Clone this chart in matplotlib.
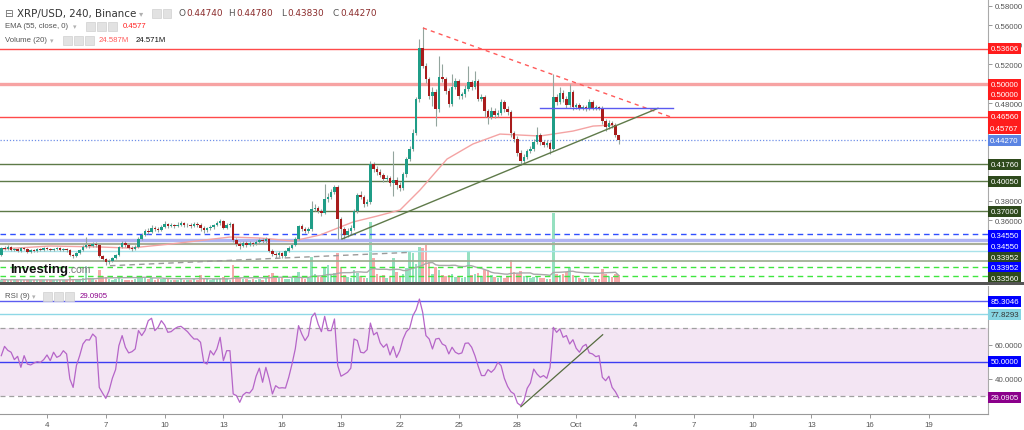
#!/usr/bin/env python3
# XRP/USD 4h (Binance) with EMA(55), Volume(20) and RSI(9) panels

import numpy as np
import pandas as pd
import matplotlib
matplotlib.use("Agg")
import matplotlib.pyplot as plt
from matplotlib.patches import Rectangle
from matplotlib.transforms import blended_transform_factory

# ---------------- data ----------------
# 4h candles, first one starts Sept 1 16:00 (x unit = day of September)
start_day = 1 + 16 / 24
first_open = 0.3243

closes = [
    0.3315, 0.3305, 0.3326, 0.3295, 0.3305, 0.3285, 0.3315, 0.3305, 0.3274, 0.3295,
    0.3285, 0.3305, 0.3295, 0.3315, 0.3305, 0.3295, 0.3305, 0.3315, 0.3295, 0.3305,
    0.3295, 0.3243, 0.3233, 0.3264, 0.3295, 0.3326, 0.3346, 0.3336, 0.3356, 0.3346,
    0.3233, 0.3202, 0.3172, 0.3182, 0.3213, 0.3243, 0.3326, 0.3367, 0.3346, 0.3315,
    0.3305, 0.3326, 0.3408, 0.3449, 0.3490, 0.3479, 0.3520, 0.3510, 0.3500, 0.3531,
    0.3561, 0.3541, 0.3551, 0.3541, 0.3551, 0.3572, 0.3551, 0.3556, 0.3541, 0.3561,
    0.3551, 0.3520, 0.3500, 0.3520, 0.3531, 0.3551, 0.3572, 0.3592, 0.3520, 0.3551,
    0.3561, 0.3397, 0.3356, 0.3336, 0.3367, 0.3346, 0.3367, 0.3356, 0.3377, 0.3397,
    0.3387, 0.3408, 0.3285, 0.3254, 0.3243, 0.3264, 0.3233, 0.3285, 0.3315, 0.3346,
    0.3408, 0.3541, 0.3510, 0.3490, 0.3510, 0.3715, 0.3725, 0.3695, 0.3674, 0.3818,
    0.3838, 0.3890, 0.3941, 0.3613, 0.3510, 0.3449, 0.3490, 0.3520, 0.3695, 0.3859,
    0.3838, 0.3766, 0.3787, 0.4177, 0.4125, 0.4095, 0.4064, 0.4023, 0.4033, 0.3982,
    0.4012, 0.3961, 0.3931, 0.4074, 0.4228, 0.4331, 0.4495, 0.4843, 0.5366, 0.5182,
    0.5048, 0.4874, 0.4915, 0.4741, 0.5069, 0.5048, 0.4925, 0.4792, 0.4966, 0.5028,
    0.4874, 0.4895, 0.4946, 0.5018, 0.4966, 0.5028, 0.4843, 0.4864, 0.4720, 0.4659,
    0.4720, 0.4679, 0.4700, 0.4813, 0.4741, 0.4710, 0.4495, 0.4433, 0.4290, 0.4208,
    0.4249, 0.4310, 0.4331, 0.4402, 0.4474, 0.4402, 0.4372, 0.4392, 0.4331, 0.4864,
    0.4813, 0.4905, 0.4843, 0.4782, 0.4915, 0.4761, 0.4782, 0.4751, 0.4761, 0.4741,
    0.4813, 0.4751, 0.4761, 0.4751, 0.4618, 0.4556, 0.4597, 0.4577, 0.4474, 0.4427,
]

highs = [
    0.3326, 0.3336, 0.3346, 0.3336, 0.3315, 0.3315, 0.3326, 0.3326, 0.3315, 0.3305,
    0.3305, 0.3315, 0.3315, 0.3326, 0.3326, 0.3315, 0.3315, 0.3326, 0.3326, 0.3315,
    0.3315, 0.3305, 0.3254, 0.3274, 0.3305, 0.3346, 0.3428, 0.3367, 0.3377, 0.3377,
    0.3356, 0.3243, 0.3213, 0.3202, 0.3223, 0.3254, 0.3336, 0.3387, 0.3387, 0.3356,
    0.3336, 0.3346, 0.3428, 0.3469, 0.3510, 0.3520, 0.3551, 0.3541, 0.3531, 0.3551,
    0.3592, 0.3572, 0.3572, 0.3561, 0.3582, 0.3592, 0.3582, 0.3572, 0.3572, 0.3582,
    0.3582, 0.3572, 0.3541, 0.3531, 0.3551, 0.3561, 0.3592, 0.3613, 0.3602, 0.3572,
    0.3582, 0.3572, 0.3418, 0.3377, 0.3387, 0.3387, 0.3387, 0.3377, 0.3397, 0.3418,
    0.3418, 0.3428, 0.3418, 0.3305, 0.3274, 0.3285, 0.3274, 0.3295, 0.3336, 0.3367,
    0.3428, 0.3551, 0.3561, 0.3531, 0.3531, 0.3797, 0.3766, 0.3746, 0.3715, 0.3972,
    0.3879, 0.3920, 0.3961, 0.3961, 0.3633, 0.3531, 0.3520, 0.3551, 0.3715, 0.3879,
    0.3900, 0.3859, 0.3818, 0.4208, 0.4197, 0.4156, 0.4125, 0.4084, 0.4064, 0.4054,
    0.4310, 0.4043, 0.3992, 0.4095, 0.4249, 0.4361, 0.4536, 0.4864, 0.5459, 0.5582,
    0.5213, 0.5069, 0.4966, 0.4946, 0.5284, 0.5202, 0.5069, 0.4956, 0.5100, 0.5059,
    0.5048, 0.4915, 0.4987, 0.5182, 0.5038, 0.5131, 0.5048, 0.4895, 0.4884, 0.4741,
    0.4761, 0.4751, 0.4731, 0.4843, 0.4833, 0.4772, 0.4731, 0.4515, 0.4464, 0.4320,
    0.4279, 0.4331, 0.4361, 0.4433, 0.4556, 0.4495, 0.4423, 0.4423, 0.4413, 0.5100,
    0.4895, 0.4966, 0.4936, 0.4874, 0.4997, 0.4936, 0.4802, 0.4802, 0.4782, 0.4782,
    0.4843, 0.4833, 0.4782, 0.4772, 0.4772, 0.4638, 0.4628, 0.4618, 0.4597, 0.4478,
]

lows = [
    0.3233, 0.3295, 0.3295, 0.3285, 0.3285, 0.3274, 0.3274, 0.3295, 0.3264, 0.3264,
    0.3274, 0.3274, 0.3285, 0.3285, 0.3295, 0.3285, 0.3285, 0.3295, 0.3285, 0.3285,
    0.3274, 0.3233, 0.3213, 0.3223, 0.3254, 0.3285, 0.3315, 0.3315, 0.3326, 0.3326,
    0.3223, 0.3182, 0.3141, 0.3151, 0.3172, 0.3202, 0.3233, 0.3315, 0.3326, 0.3305,
    0.3285, 0.3295, 0.3315, 0.3397, 0.3438, 0.3459, 0.3469, 0.3490, 0.3479, 0.3490,
    0.3520, 0.3520, 0.3531, 0.3520, 0.3531, 0.3541, 0.3531, 0.3531, 0.3520, 0.3531,
    0.3531, 0.3490, 0.3469, 0.3479, 0.3500, 0.3510, 0.3541, 0.3551, 0.3510, 0.3510,
    0.3531, 0.3377, 0.3336, 0.3305, 0.3326, 0.3326, 0.3336, 0.3336, 0.3346, 0.3356,
    0.3367, 0.3367, 0.3274, 0.3233, 0.3213, 0.3223, 0.3213, 0.3223, 0.3274, 0.3305,
    0.3336, 0.3397, 0.3490, 0.3469, 0.3469, 0.3490, 0.3695, 0.3674, 0.3643, 0.3664,
    0.3787, 0.3818, 0.3869, 0.3408, 0.3408, 0.3408, 0.3428, 0.3459, 0.3500, 0.3674,
    0.3818, 0.3736, 0.3746, 0.3766, 0.4095, 0.4064, 0.4043, 0.3992, 0.4002, 0.3951,
    0.3849, 0.3920, 0.3900, 0.3910, 0.4043, 0.4208, 0.4310, 0.4474, 0.4813, 0.5161,
    0.5007, 0.4843, 0.4772, 0.4566, 0.4710, 0.5018, 0.4895, 0.4761, 0.4772, 0.4946,
    0.4843, 0.4843, 0.4864, 0.4925, 0.4936, 0.4946, 0.4823, 0.4823, 0.4659, 0.4587,
    0.4638, 0.4648, 0.4659, 0.4679, 0.4710, 0.4679, 0.4454, 0.4402, 0.4259, 0.4166,
    0.4187, 0.4228, 0.4290, 0.4310, 0.4382, 0.4372, 0.4351, 0.4351, 0.4279, 0.4320,
    0.4782, 0.4792, 0.4813, 0.4751, 0.4761, 0.4731, 0.4741, 0.4731, 0.4731, 0.4720,
    0.4731, 0.4731, 0.4731, 0.4731, 0.4587, 0.4515, 0.4536, 0.4546, 0.4454, 0.4383,
]

# volume in millions
volumes = [
    9, 8, 6, 9, 8, 6, 8, 6, 9, 8,
    8, 6, 8, 6, 9, 8, 6, 8, 6, 8,
    9, 18, 12, 9, 8, 14, 57, 15, 11, 9,
    44, 21, 18, 12, 9, 11, 15, 12, 9, 8,
    9, 11, 21, 15, 18, 12, 14, 9, 11, 12,
    15, 11, 9, 8, 9, 11, 9, 8, 9, 11,
    9, 26, 14, 11, 9, 11, 12, 14, 18, 11,
    9, 60, 23, 15, 12, 11, 9, 11, 9, 12,
    9, 14, 27, 33, 21, 15, 18, 12, 11, 14,
    21, 36, 15, 12, 14, 90, 30, 21, 18, 54,
    60, 27, 33, 105, 54, 27, 18, 15, 44, 33,
    21, 15, 14, 216, 87, 30, 21, 27, 15, 18,
    87, 36, 21, 30, 51, 108, 105, 65, 126, 123,
    134, 72, 30, 54, 44, 27, 21, 24, 30, 18,
    21, 15, 18, 111, 24, 30, 33, 21, 42, 45,
    24, 18, 15, 21, 15, 18, 78, 36, 29, 39,
    21, 18, 15, 18, 21, 15, 14, 12, 11, 249,
    29, 27, 30, 36, 54, 24, 18, 15, 12, 14,
    15, 12, 11, 11, 47, 30, 21, 18, 29, 24.587,
]

rsi_values = [
    53.6, 59.0, 56.7, 55.6, 51.3, 53.2, 46.8, 53.6, 48.7, 48.2,
    49.3, 50.1, 49.7, 51.3, 54.0, 50.7, 55.6, 52.6, 53.6, 56.5,
    54.6, 40.0, 35.1, 47.8, 53.6, 60.4, 62.9, 62.7, 66.2, 64.3,
    35.1, 31.8, 28.7, 33.2, 40.4, 45.5, 59.4, 65.3, 58.5, 55.2,
    55.9, 57.5, 68.2, 65.3, 68.2, 74.0, 75.4, 68.2, 70.1, 74.0,
    71.5, 67.2, 67.6, 69.2, 70.3, 70.7, 69.2, 67.6, 65.3, 63.3,
    63.3, 61.4, 49.7, 48.7, 56.5, 54.0, 57.5, 64.3, 50.7, 56.5,
    56.5, 31.3, 30.3, 26.4, 30.7, 32.2, 31.8, 34.2, 41.6, 46.3,
    38.1, 46.8, 40.0, 31.3, 36.1, 34.7, 34.9, 34.7, 41.0, 48.7,
    57.5, 71.1, 66.2, 62.4, 65.3, 76.0, 78.5, 72.0, 67.6, 76.5,
    68.2, 68.2, 75.0, 47.8, 41.6, 42.7, 43.9, 46.3, 63.3, 62.4,
    55.6, 55.2, 57.1, 72.6, 65.7, 67.2, 61.0, 58.5, 60.4, 54.0,
    59.0, 52.6, 56.5, 63.3, 67.6, 69.5, 76.9, 80.4, 86.6, 78.9,
    65.3, 63.3, 57.5, 63.3, 63.7, 60.4, 59.4, 54.6, 58.5, 55.6,
    54.6, 55.2, 60.8, 61.0, 58.5, 53.6, 47.4, 42.0, 42.0, 45.5,
    43.9, 45.8, 49.7, 47.8, 40.4, 35.7, 32.6, 31.3, 26.0, 24.5,
    27.4, 34.6, 37.7, 45.8, 42.9, 41.0, 42.0, 40.4, 46.8, 70.1,
    67.2, 69.2, 64.3, 65.3, 60.4, 62.9, 57.9, 55.6, 59.0, 60.2,
    55.2, 54.6, 53.0, 53.6, 41.0, 39.0, 41.6, 35.1, 32.6, 29.0905,
]

# EMA(55) at these days
ema_days = [1.60, 4.15, 6.70, 8.23, 10.28, 13.34, 14.87, 16.55, 17.93, 19.61, 20.84,
            22.01, 23.03, 24.41, 25.73, 27.11, 28.13, 29.15, 29.82, 30.84, 31.86, 32.88]
ema_values = [0.3305, 0.3336, 0.3326, 0.3315, 0.3356, 0.3428, 0.3418, 0.3387, 0.3449,
              0.3582, 0.3643, 0.3705, 0.3910, 0.4228, 0.4382, 0.4484, 0.4474, 0.4464,
              0.4484, 0.4515, 0.4566, 0.4577]

day_ticks = [4, 7, 10, 13, 16, 19, 22, 25, 28, 31, 34, 37, 40, 43, 46, 49]
day_labels = ["4", "7", "10", "13", "16", "19", "22", "25", "28", "Oct",
              "4", "7", "10", "13", "16", "19"]
price_ticks = [0.36, 0.38, 0.48, 0.52, 0.54, 0.56, 0.58]

# horizontal levels drawn on the price chart
level_prices = [0.53606, 0.50000, 0.46560, 0.44270, 0.41760, 0.40050, 0.37000,
                0.34550, 0.33970, 0.33560, 0.32840, 0.31850, 0.31200, 0.30280]
level_styles = [
    ("#ff4a4a", 1.0, "-"), ("#f7a3a3", 2.4, "-"), ("#ff4a4a", 1.0, "-"),
    ("#7090e8", 0.9, (0, (1, 1.5))), ("#5d7a48", 1.0, "-"), ("#5d7a48", 1.0, "-"),
    ("#5d7a48", 1.0, "-"), ("#3050ff", 1.0, (0, (4, 3))), ("#b0b4f2", 2.4, "-"),
    ("#a8ae98", 1.5, "-"), ("#a8e2ea", 1.0, "-"), ("#9aa88e", 1.2, "-"),
    ("#3fe63f", 1.0, (0, (4, 3))), ("#3fe63f", 1.0, (0, (4, 3))),
]

# drawings: (day, price) anchors
resist_line = [(23.18, 0.5572), (35.79, 0.4662)]
support_line = [(19.05, 0.3408), (35.17, 0.4748)]
flat_line = [(29.15, 0.4748), (35.94, 0.4748)]
low_trend = [(7.21, 0.3134), (22.52, 0.3271)]
rsi_trend = [(28.18, 23.85), (32.35, 65.8)]

# right-axis tags: text, where it sits, background, text colour
price_tags = [
    ("0.53606", 0.5363, "#ff1c1c", "white"), ("0.50000", 0.4997, "#ff1c1c", "white"),
    ("0.50000", 0.4885, "#ff1c1c", "white"), ("0.46560", 0.4659, "#ff1c1c", "white"),
    ("0.45767", 0.4543, "#ff1c1c", "white"), ("0.44270", 0.4420, "#5b84e3", "white"),
    ("0.41760", 0.4170, "#2e4a1c", "white"), ("0.40050", 0.4000, "#2e4a1c", "white"),
    ("0.37000", 0.3692, "#2e4a1c", "white"), ("0.34550", 0.3441, "#0000ff", "white"),
    ("0.34550", 0.3326, "#0000ff", "white"), ("0.33952", 0.3223, "#2e4a1c", "white"),
    ("0.33952", 0.3120, "#0000ff", "white"), ("0.33560", 0.3008, "#2e4a1c", "white"),
]
rsi_tags = [
    ("85.3046", 85.3046, "#0000ff", "white"), ("77.8293", 77.8293, "#86d4e2", "#333333"),
    ("50.0000", 50.0, "#0000ff", "white"), ("29.0905", 29.0905, "#8b008b", "white"),
]

# ---------------- figure ----------------
W, H = 1024, 431
AXFONT = 5.7
fig = plt.figure(figsize=(W / 100, H / 100), dpi=100)
fig.patch.set_facecolor("white")


def rect(top, bottom, right=988):
    return [0, 1 - bottom / H, right / W, (bottom - top) / H]


vol_ax = fig.add_axes(rect(0, 283))
ax = fig.add_axes(rect(0, 283), sharex=vol_ax)
rsi_ax = fig.add_axes(rect(287, 415), sharex=vol_ax)
ax.set_zorder(vol_ax.get_zorder() + 1)
ax.patch.set_visible(False)

c = np.array(closes)
o = np.r_[first_open, c[:-1]]
hi = np.maximum(np.array(highs), np.maximum(o, c))
lo = np.minimum(np.array(lows), np.minimum(o, c))
t = start_day + np.arange(len(c)) / 6
up = c >= o

# volume panel (behind candles)
vol = pd.Series(volumes, dtype=float)
vol_ax.bar(t, vol, width=0.13, color=np.where(up, "#95e0c0", "#f6aaaa"), linewidth=0)
vol_ax.plot(t, vol.rolling(20, min_periods=1).mean(), color="#a9a9a9", lw=1.0)
vol_ax.set_ylim(0, 1020)
vol_ax.axis("off")

# price levels
for p, (col, lw, ls) in zip(level_prices, level_styles):
    ax.axhline(p, color=col, lw=lw, ls=ls, zorder=2)

# EMA 55
ax.plot(ema_days, ema_values, color="#f4a3a3", lw=1.0, zorder=3)

# candles
ax.vlines(t, lo, hi, colors="#93a59e", lw=0.8, zorder=4)
ax.bar(t, np.maximum(np.abs(c - o), 0.0004), bottom=np.minimum(o, c), width=0.13,
       color=np.where(up, "#1f9d87", "#a81c1c"), linewidth=0, zorder=5)

# drawings
for pts, col, ls in [(resist_line, "#ff5a5a", (0, (3, 3))), (support_line, "#5f7a4a", "-"),
                     (flat_line, "#5a5af0", "-"), (low_trend, "#9a9a9a", (0, (4, 3)))]:
    xs, ys = zip(*pts)
    ax.plot(xs, ys, color=col, lw=1.0, ls=ls, zorder=6)

ax.set_xlim(1.602, 52.01)
ax.set_ylim(0.2967, 0.5869)

# price axis on the right
ax.yaxis.tick_right()
ax.set_yticks(price_ticks)
ax.yaxis.set_major_formatter(plt.FormatStrFormatter("%.5f"))
ax.tick_params(axis="y", length=3, width=0.6, color="#888888", pad=2,
               labelsize=AXFONT, labelcolor="#555555")
ax.tick_params(axis="x", bottom=False, labelbottom=False)
for s in ["top", "left", "bottom"]:
    ax.spines[s].set_visible(False)
ax.spines["right"].set_color("#aaaaaa")
for lab in ax.get_yticklabels():
    lab.set_family("Liberation Sans")


def draw_tags(a, tags, box_h):
    tr = blended_transform_factory(a.transAxes, a.transData)
    for txt, y, bg, fg in tags:
        a.add_patch(Rectangle((1.0, y - box_h / 2), 33 / 988, box_h, transform=tr,
                              facecolor=bg, edgecolor="none", clip_on=False, zorder=10))
        a.text(1.0 + 16.5 / 988, y, txt, transform=tr, ha="center", va="center",
               color=fg, fontsize=AXFONT, family="Liberation Sans", clip_on=False,
               zorder=11)


draw_tags(ax, price_tags, 0.0113)

# RSI panel
rsi_ax.axhspan(30, 70, color="#f3e5f3", lw=0, zorder=0)
rsi_ax.axhline(70, color="#a0a0a0", lw=0.9, ls=(0, (4, 3)))
rsi_ax.axhline(30, color="#a0a0a0", lw=0.9, ls=(0, (4, 3)))
rsi_ax.axhline(85.3046, color="#5c5cf0", lw=1.0)
rsi_ax.axhline(77.8293, color="#8fd8e6", lw=1.0)
rsi_ax.axhline(50, color="#3c3cf2", lw=1.0)
rsi_ax.plot(t, rsi_values, color="#b565c8", lw=0.9, zorder=3)
xs, ys = zip(*rsi_trend)
rsi_ax.plot(xs, ys, color="#556b3f", lw=0.9, zorder=4)
rsi_ax.set_ylim(19.6, 94.2)
rsi_ax.yaxis.tick_right()
rsi_ax.set_yticks([40, 60])
rsi_ax.yaxis.set_major_formatter(plt.FormatStrFormatter("%.4f"))
rsi_ax.tick_params(axis="y", length=3, width=0.6, color="#888888", pad=2,
                   labelsize=AXFONT, labelcolor="#555555")
rsi_ax.set_xticks(day_ticks)
rsi_ax.set_xticklabels(day_labels)
rsi_ax.tick_params(axis="x", length=3, width=0.6, color="#888888", pad=2,
                   labelsize=AXFONT, labelcolor="#555555")
for s in ["top", "left"]:
    rsi_ax.spines[s].set_visible(False)
rsi_ax.spines["right"].set_color("#aaaaaa")
rsi_ax.spines["bottom"].set_color("#999999")
for lab in rsi_ax.get_yticklabels() + rsi_ax.get_xticklabels():
    lab.set_family("Liberation Sans")
draw_tags(rsi_ax, rsi_tags, 6.4)

# panel separator
fig.patches.append(Rectangle((0, 1 - 286 / H), 1, 3 / H, transform=fig.transFigure,
                             facecolor="#555555", edgecolor="none"))


# ---------------- header texts ----------------
def ftext(x, y, s, **kw):
    fig.text(x / W, 1 - y / H, s, va="center", ha="left", **kw)


def icons(xs, y):
    for x in xs:
        fig.patches.append(Rectangle((x / W, 1 - (y + 4.5) / H), 8.5 / W, 9 / H,
                                     transform=fig.transFigure, facecolor="#e2e2e2",
                                     edgecolor="#d0d0d0", lw=0.5))


ftext(4, 14, "\u229f", fontsize=7.5, color="#666666")
ftext(17, 14, "XRP/USD, 240, Binance", fontsize=7.4, color="#333333")
ftext(139, 14, "\u25be", fontsize=6, color="#b0b0b0")
icons([152, 162.5], 14)
for x, s, col in [(178.5, "O", "#555555"), (186, "0.44740", "#8b2c2c"),
                  (228.5, "H", "#555555"), (236, "0.44780", "#8b2c2c"),
                  (281, "L", "#555555"), (287, "0.43830", "#8b2c2c"),
                  (332.5, "C", "#555555"), (340, "0.44270", "#8b2c2c")]:
    ftext(x, 14, s, fontsize=6.4, color=col)

SUB = dict(fontsize=5.6, family="Liberation Sans")
ftext(5, 27, "EMA (55, close, 0)", color="#555555", **SUB)
ftext(73, 27, "\u25be", fontsize=5, color="#b0b0b0")
icons([86, 97, 108], 27)
ftext(123, 27, "0.4577", color="#ff2020", **SUB)

ftext(5, 41, "Volume (20)", color="#555555", **SUB)
ftext(50, 41, "\u25be", fontsize=5, color="#b0b0b0")
icons([63, 74, 85], 41)
ftext(99, 41, "24.587M", color="#ff5a5a", **SUB)
ftext(136, 41, "24.571M", color="#111111", **SUB)

ftext(5, 297, "RSI (9)", color="#555555", **SUB)
ftext(32, 297, "\u25be", fontsize=5, color="#b0b0b0")
icons([43, 54, 65], 297)
ftext(80, 297, "29.0905", color="#8b008b", **SUB)

# watermark
fig.text(10 / W, 1 - 273 / H, "Investing", fontsize=9.5, fontweight="bold",
         family="Liberation Sans", color="#111111", va="baseline")
fig.text(68 / W, 1 - 273 / H, ".com", fontsize=7.5, family="Liberation Sans",
         color="#777777", va="baseline")

fig.savefig("out.png", dpi=100)
